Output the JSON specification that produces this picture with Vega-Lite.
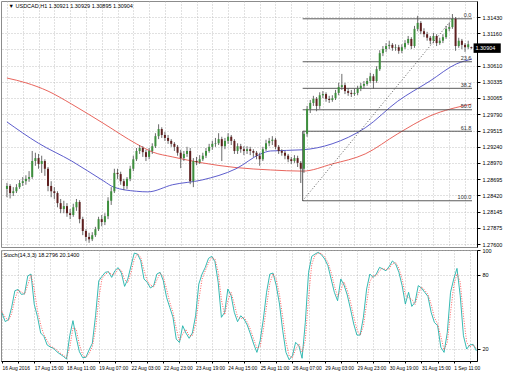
{
  "$schema": "https://vega.github.io/schema/vega-lite/v6.json",
  "padding": 0,
  "background": "white",
  "spacing": 3,
  "bounds": "flush",
  "config": {
    "view": {"stroke": "#8c8c8c", "strokeWidth": 1},
    "axis": {"labelFont": "Liberation Sans", "labelFontSize": 5.5, "labelColor": "#000000", "domainColor": "#000000", "tickColor": "#000000", "tickSize": 3, "gridColor": "#b4b4b4", "gridDash": [1, 2], "gridWidth": 0.8, "labelOverlap": false, "labelFlush": false, "labelBound": false, "tickCount": 200},
    "text": {"font": "Liberation Sans", "fontSize": 5.5}
  },
  "datasets": {
    "bars": [
      {"i":0,"o":1.2853,"h":1.2863,"l":1.2839,"c":1.2858,"k":49,"d":50},
      {"i":1,"o":1.2858,"h":1.2861,"l":1.2837,"c":1.2846,"k":42,"d":45.5},
      {"i":2,"o":1.2846,"h":1.2856,"l":1.2841,"c":1.2849,"k":43.5,"d":42.7},
      {"i":3,"o":1.2849,"h":1.2861,"l":1.2846,"c":1.2856,"k":53.5,"d":48.5},
      {"i":4,"o":1.2856,"h":1.2868,"l":1.2853,"c":1.2863,"k":67,"d":60},
      {"i":5,"o":1.2863,"h":1.2873,"l":1.2858,"c":1.2866,"k":68,"d":67.5},
      {"i":6,"o":1.2866,"h":1.2876,"l":1.2860,"c":1.2870,"k":64,"d":66},
      {"i":7,"o":1.2870,"h":1.2883,"l":1.2865,"c":1.2873,"k":64.5,"d":64.2},
      {"i":8,"o":1.2873,"h":1.2917,"l":1.2870,"c":1.2900,"k":79,"d":71.7},
      {"i":9,"o":1.2900,"h":1.2914,"l":1.2892,"c":1.2905,"k":80.5,"d":79.7},
      {"i":10,"o":1.2905,"h":1.2912,"l":1.2887,"c":1.2895,"k":56,"d":68.2},
      {"i":11,"o":1.2895,"h":1.2909,"l":1.2880,"c":1.2900,"k":46,"d":51},
      {"i":12,"o":1.2900,"h":1.2903,"l":1.2875,"c":1.2887,"k":32.7,"d":39.3},
      {"i":13,"o":1.2887,"h":1.2890,"l":1.2849,"c":1.2858,"k":30,"d":31.3},
      {"i":14,"o":1.2858,"h":1.2866,"l":1.2839,"c":1.2849,"k":23,"d":26.5},
      {"i":15,"o":1.2849,"h":1.2856,"l":1.2836,"c":1.2846,"k":21.3,"d":22.1},
      {"i":16,"o":1.2846,"h":1.2849,"l":1.2822,"c":1.2829,"k":20.3,"d":20.8},
      {"i":17,"o":1.2829,"h":1.2836,"l":1.2812,"c":1.2819,"k":17.5,"d":18.9},
      {"i":18,"o":1.2819,"h":1.2833,"l":1.2812,"c":1.2824,"k":15.6,"d":16.5},
      {"i":19,"o":1.2824,"h":1.2829,"l":1.2806,"c":1.2812,"k":13.8,"d":14.7},
      {"i":20,"o":1.2812,"h":1.2819,"l":1.2802,"c":1.2809,"k":11.6,"d":12.7},
      {"i":21,"o":1.2809,"h":1.2828,"l":1.2806,"c":1.2822,"k":30.5,"d":21},
      {"i":22,"o":1.2822,"h":1.2836,"l":1.2816,"c":1.2831,"k":42.7,"d":36.6},
      {"i":23,"o":1.2831,"h":1.2834,"l":1.2795,"c":1.2802,"k":29,"d":35.8},
      {"i":24,"o":1.2802,"h":1.2806,"l":1.2775,"c":1.2782,"k":17.5,"d":23.2},
      {"i":25,"o":1.2782,"h":1.2785,"l":1.2765,"c":1.2772,"k":12.7,"d":15.1},
      {"i":26,"o":1.2772,"h":1.2779,"l":1.2762,"c":1.2768,"k":13,"d":12.8},
      {"i":27,"o":1.2768,"h":1.2780,"l":1.2765,"c":1.2775,"k":19,"d":16},
      {"i":28,"o":1.2775,"h":1.2789,"l":1.2772,"c":1.2785,"k":24.3,"d":21.6},
      {"i":29,"o":1.2785,"h":1.2806,"l":1.2782,"c":1.2802,"k":46.7,"d":35.5},
      {"i":30,"o":1.2802,"h":1.2809,"l":1.2790,"c":1.2797,"k":75,"d":60.8},
      {"i":31,"o":1.2797,"h":1.2812,"l":1.2792,"c":1.2807,"k":78.6,"d":76.8},
      {"i":32,"o":1.2807,"h":1.2839,"l":1.2802,"c":1.2833,"k":81.9,"d":80.2},
      {"i":33,"o":1.2833,"h":1.2856,"l":1.2826,"c":1.2849,"k":82.4,"d":82.1},
      {"i":34,"o":1.2849,"h":1.2887,"l":1.2846,"c":1.2880,"k":77.8,"d":80.1},
      {"i":35,"o":1.2880,"h":1.2887,"l":1.2870,"c":1.2878,"k":83.2,"d":80.5},
      {"i":36,"o":1.2878,"h":1.2882,"l":1.2860,"c":1.2866,"k":85.7,"d":84.4},
      {"i":37,"o":1.2866,"h":1.2870,"l":1.2851,"c":1.2858,"k":81.3,"d":83.5},
      {"i":38,"o":1.2858,"h":1.2873,"l":1.2853,"c":1.2870,"k":70.5,"d":75.9},
      {"i":39,"o":1.2870,"h":1.2892,"l":1.2866,"c":1.2887,"k":76.5,"d":73.5},
      {"i":40,"o":1.2887,"h":1.2909,"l":1.2883,"c":1.2903,"k":87.3,"d":81.9},
      {"i":41,"o":1.2903,"h":1.2922,"l":1.2900,"c":1.2917,"k":97.5,"d":92.4},
      {"i":42,"o":1.2917,"h":1.2927,"l":1.2912,"c":1.2922,"k":96.7,"d":97.1},
      {"i":43,"o":1.2922,"h":1.2925,"l":1.2907,"c":1.2915,"k":91.3,"d":94},
      {"i":44,"o":1.2915,"h":1.2919,"l":1.2900,"c":1.2907,"k":76.5,"d":83.9},
      {"i":45,"o":1.2907,"h":1.2922,"l":1.2903,"c":1.2917,"k":73.8,"d":75.1},
      {"i":46,"o":1.2917,"h":1.2930,"l":1.2912,"c":1.2925,"k":69.2,"d":71.5},
      {"i":47,"o":1.2925,"h":1.2947,"l":1.2922,"c":1.2942,"k":71,"d":70.1},
      {"i":48,"o":1.2942,"h":1.2962,"l":1.2937,"c":1.2954,"k":80.5,"d":75.7},
      {"i":49,"o":1.2954,"h":1.2957,"l":1.2939,"c":1.2944,"k":81.9,"d":81.2},
      {"i":50,"o":1.2944,"h":1.2949,"l":1.2934,"c":1.2939,"k":75.1,"d":78.5},
      {"i":51,"o":1.2939,"h":1.2944,"l":1.2929,"c":1.2934,"k":61.6,"d":68.4},
      {"i":52,"o":1.2934,"h":1.2937,"l":1.2924,"c":1.2929,"k":53.5,"d":57.5},
      {"i":53,"o":1.2929,"h":1.2932,"l":1.2917,"c":1.2924,"k":45.4,"d":49.5},
      {"i":54,"o":1.2924,"h":1.2927,"l":1.2909,"c":1.2914,"k":27.8,"d":36.6},
      {"i":55,"o":1.2914,"h":1.2919,"l":1.2888,"c":1.2905,"k":25,"d":26.4},
      {"i":56,"o":1.2905,"h":1.2917,"l":1.2900,"c":1.2912,"k":38.6,"d":31.8},
      {"i":57,"o":1.2912,"h":1.2924,"l":1.2907,"c":1.2917,"k":32.7,"d":35.6},
      {"i":58,"o":1.2917,"h":1.2922,"l":1.2861,"c":1.2866,"k":28.4,"d":30.5},
      {"i":59,"o":1.2866,"h":1.2905,"l":1.2856,"c":1.2900,"k":32.7,"d":30.5},
      {"i":60,"o":1.2900,"h":1.2907,"l":1.2893,"c":1.2898,"k":46.7,"d":39.7},
      {"i":61,"o":1.2898,"h":1.2910,"l":1.2895,"c":1.2903,"k":72.4,"d":59.5},
      {"i":62,"o":1.2903,"h":1.2914,"l":1.2900,"c":1.2909,"k":80.5,"d":76.4},
      {"i":63,"o":1.2909,"h":1.2922,"l":1.2905,"c":1.2917,"k":85.9,"d":83.2},
      {"i":64,"o":1.2917,"h":1.2929,"l":1.2914,"c":1.2924,"k":93.2,"d":89.5},
      {"i":65,"o":1.2924,"h":1.2934,"l":1.2919,"c":1.2929,"k":94.9,"d":94},
      {"i":66,"o":1.2929,"h":1.2939,"l":1.2924,"c":1.2930,"k":90.5,"d":92.7},
      {"i":67,"o":1.2930,"h":1.2947,"l":1.2927,"c":1.2937,"k":73.8,"d":82.1},
      {"i":68,"o":1.2937,"h":1.2941,"l":1.2900,"c":1.2925,"k":45.4,"d":59.6},
      {"i":69,"o":1.2925,"h":1.2939,"l":1.2920,"c":1.2934,"k":49.4,"d":47.4},
      {"i":70,"o":1.2934,"h":1.2947,"l":1.2929,"c":1.2941,"k":68.4,"d":58.9},
      {"i":71,"o":1.2941,"h":1.2944,"l":1.2927,"c":1.2934,"k":63,"d":65.7},
      {"i":72,"o":1.2934,"h":1.2937,"l":1.2912,"c":1.2917,"k":49.4,"d":56.2},
      {"i":73,"o":1.2917,"h":1.2930,"l":1.2912,"c":1.2925,"k":41.9,"d":45.6},
      {"i":74,"o":1.2925,"h":1.2929,"l":1.2914,"c":1.2920,"k":46.7,"d":44.3},
      {"i":75,"o":1.2920,"h":1.2925,"l":1.2910,"c":1.2917,"k":44,"d":45.3},
      {"i":76,"o":1.2917,"h":1.2925,"l":1.2912,"c":1.2920,"k":39.2,"d":41.6},
      {"i":77,"o":1.2920,"h":1.2924,"l":1.2910,"c":1.2917,"k":31.9,"d":35.5},
      {"i":78,"o":1.2917,"h":1.2920,"l":1.2907,"c":1.2914,"k":23.8,"d":27.8},
      {"i":79,"o":1.2914,"h":1.2917,"l":1.2903,"c":1.2909,"k":17,"d":20.4},
      {"i":80,"o":1.2909,"h":1.2914,"l":1.2892,"c":1.2903,"k":26.5,"d":21.7},
      {"i":81,"o":1.2903,"h":1.2924,"l":1.2900,"c":1.2920,"k":44,"d":35.2},
      {"i":82,"o":1.2920,"h":1.2936,"l":1.2917,"c":1.2930,"k":65.7,"d":54.8},
      {"i":83,"o":1.2930,"h":1.2939,"l":1.2925,"c":1.2934,"k":80.5,"d":73.1},
      {"i":84,"o":1.2934,"h":1.2942,"l":1.2927,"c":1.2936,"k":81.3,"d":80.9},
      {"i":85,"o":1.2936,"h":1.2939,"l":1.2920,"c":1.2924,"k":71.1,"d":76.2},
      {"i":86,"o":1.2924,"h":1.2927,"l":1.2912,"c":1.2917,"k":56.2,"d":63.6},
      {"i":87,"o":1.2917,"h":1.2920,"l":1.2909,"c":1.2914,"k":34.6,"d":45.4},
      {"i":88,"o":1.2914,"h":1.2917,"l":1.2903,"c":1.2909,"k":17,"d":25.8},
      {"i":89,"o":1.2909,"h":1.2912,"l":1.2898,"c":1.2903,"k":11,"d":14},
      {"i":90,"o":1.2903,"h":1.2907,"l":1.2895,"c":1.2900,"k":14.3,"d":12.6},
      {"i":91,"o":1.2900,"h":1.2910,"l":1.2897,"c":1.2905,"k":25.1,"d":19.7},
      {"i":92,"o":1.2905,"h":1.2909,"l":1.2890,"c":1.2897,"k":22.4,"d":23.7},
      {"i":93,"o":1.2897,"h":1.2900,"l":1.2863,"c":1.2887,"k":12.2,"d":17.3},
      {"i":94,"o":1.2887,"h":1.2951,"l":1.2880,"c":1.2946,"k":41.3,"d":26.7},
      {"i":95,"o":1.2946,"h":1.2993,"l":1.2941,"c":1.2988,"k":81.9,"d":61.6},
      {"i":96,"o":1.2988,"h":1.3003,"l":1.2981,"c":1.2998,"k":94.9,"d":88.4},
      {"i":97,"o":1.2998,"h":1.3010,"l":1.2993,"c":1.3005,"k":96.7,"d":95.8},
      {"i":98,"o":1.3005,"h":1.3008,"l":1.2984,"c":1.2993,"k":98.1,"d":97.4},
      {"i":99,"o":1.2993,"h":1.3016,"l":1.2988,"c":1.3011,"k":96.2,"d":97.1},
      {"i":100,"o":1.3011,"h":1.3018,"l":1.3006,"c":1.3013,"k":92.7,"d":94.4},
      {"i":101,"o":1.3013,"h":1.3016,"l":1.3000,"c":1.3005,"k":87.3,"d":90},
      {"i":102,"o":1.3005,"h":1.3010,"l":1.2998,"c":1.3003,"k":76.5,"d":81.9},
      {"i":103,"o":1.3003,"h":1.3011,"l":1.3000,"c":1.3006,"k":65.7,"d":71.1},
      {"i":104,"o":1.3006,"h":1.3020,"l":1.3003,"c":1.3015,"k":58.9,"d":62.3},
      {"i":105,"o":1.3015,"h":1.3032,"l":1.3011,"c":1.3025,"k":76.5,"d":67.7},
      {"i":106,"o":1.3025,"h":1.3047,"l":1.3020,"c":1.3028,"k":71.6,"d":74},
      {"i":107,"o":1.3028,"h":1.3032,"l":1.3013,"c":1.3018,"k":63.5,"d":67.5},
      {"i":108,"o":1.3018,"h":1.3023,"l":1.3010,"c":1.3015,"k":52.2,"d":57.8},
      {"i":109,"o":1.3015,"h":1.3020,"l":1.3008,"c":1.3013,"k":40,"d":46.1},
      {"i":110,"o":1.3013,"h":1.3022,"l":1.3010,"c":1.3015,"k":31,"d":35.5},
      {"i":111,"o":1.3015,"h":1.3027,"l":1.3011,"c":1.3022,"k":31,"d":31},
      {"i":112,"o":1.3022,"h":1.3032,"l":1.3018,"c":1.3027,"k":45.4,"d":38.2},
      {"i":113,"o":1.3027,"h":1.3035,"l":1.3022,"c":1.3030,"k":68.4,"d":56.9},
      {"i":114,"o":1.3030,"h":1.3040,"l":1.3027,"c":1.3035,"k":80.5,"d":74.4},
      {"i":115,"o":1.3035,"h":1.3049,"l":1.3032,"c":1.3043,"k":77.8,"d":79.1},
      {"i":116,"o":1.3043,"h":1.3047,"l":1.3022,"c":1.3035,"k":80.5,"d":79.1},
      {"i":117,"o":1.3035,"h":1.3060,"l":1.3032,"c":1.3055,"k":85.9,"d":83.2},
      {"i":118,"o":1.3055,"h":1.3087,"l":1.3052,"c":1.3082,"k":84.6,"d":85.2},
      {"i":119,"o":1.3082,"h":1.3094,"l":1.3077,"c":1.3089,"k":83.2,"d":83.9},
      {"i":120,"o":1.3089,"h":1.3099,"l":1.3084,"c":1.3094,"k":86.7,"d":85},
      {"i":121,"o":1.3094,"h":1.3103,"l":1.3089,"c":1.3096,"k":91.1,"d":88.9},
      {"i":122,"o":1.3096,"h":1.3099,"l":1.3086,"c":1.3091,"k":88.6,"d":89.8},
      {"i":123,"o":1.3091,"h":1.3097,"l":1.3086,"c":1.3092,"k":81.9,"d":85.2},
      {"i":124,"o":1.3092,"h":1.3096,"l":1.3081,"c":1.3086,"k":71.1,"d":76.5},
      {"i":125,"o":1.3086,"h":1.3097,"l":1.3082,"c":1.3092,"k":56.2,"d":63.6},
      {"i":126,"o":1.3092,"h":1.3104,"l":1.3089,"c":1.3099,"k":65.7,"d":61},
      {"i":127,"o":1.3099,"h":1.3111,"l":1.3096,"c":1.3106,"k":54.3,"d":60},
      {"i":128,"o":1.3106,"h":1.3109,"l":1.3089,"c":1.3094,"k":57.6,"d":55.9},
      {"i":129,"o":1.3094,"h":1.3128,"l":1.3091,"c":1.3123,"k":71.1,"d":64.3},
      {"i":130,"o":1.3123,"h":1.3145,"l":1.3119,"c":1.3133,"k":69.2,"d":70.1},
      {"i":131,"o":1.3133,"h":1.3136,"l":1.3114,"c":1.3119,"k":65.7,"d":67.4},
      {"i":132,"o":1.3119,"h":1.3124,"l":1.3109,"c":1.3114,"k":62.4,"d":64},
      {"i":133,"o":1.3114,"h":1.3118,"l":1.3103,"c":1.3108,"k":49.4,"d":55.9},
      {"i":134,"o":1.3108,"h":1.3111,"l":1.3097,"c":1.3103,"k":41.3,"d":45.3},
      {"i":135,"o":1.3103,"h":1.3116,"l":1.3099,"c":1.3111,"k":38.6,"d":40},
      {"i":136,"o":1.3111,"h":1.3114,"l":1.3094,"c":1.3099,"k":21.1,"d":29.8},
      {"i":137,"o":1.3099,"h":1.3108,"l":1.3096,"c":1.3103,"k":17,"d":19},
      {"i":138,"o":1.3103,"h":1.3114,"l":1.3099,"c":1.3109,"k":33.2,"d":25.1},
      {"i":139,"o":1.3109,"h":1.3128,"l":1.3106,"c":1.3123,"k":65.7,"d":49.4},
      {"i":140,"o":1.3123,"h":1.3133,"l":1.3119,"c":1.3126,"k":76.5,"d":71.1},
      {"i":141,"o":1.3126,"h":1.3148,"l":1.3123,"c":1.3140,"k":85.1,"d":80.8},
      {"i":142,"o":1.3140,"h":1.3143,"l":1.3086,"c":1.3094,"k":63,"d":74},
      {"i":143,"o":1.3094,"h":1.3108,"l":1.3091,"c":1.3103,"k":30.5,"d":46.7},
      {"i":144,"o":1.3103,"h":1.3106,"l":1.3089,"c":1.3096,"k":19.7,"d":25.1},
      {"i":145,"o":1.3096,"h":1.3099,"l":1.3084,"c":1.3092,"k":23,"d":21.4},
      {"i":146,"o":1.3092,"h":1.3103,"l":1.3089,"c":1.3097,"k":23.5,"d":23.2},
      {"i":147,"o":1.30921,"h":1.30929,"l":1.30895,"c":1.30904,"k":18.28,"d":20.14}
    ],
    "red": [
      {"i":0,"v":1.3040},{"i":6,"v":1.3032},{"i":13,"v":1.3018},{"i":20.5,"v":1.2996},{"i":30.7,"v":1.2963},{"i":41,"v":1.2929},{"i":46.2,"v":1.2915},{"i":52.4,"v":1.2907},{"i":61.7,"v":1.2897},{"i":72.5,"v":1.2889},{"i":83.4,"v":1.2885},{"i":93.6,"v":1.2883},{"i":102.9,"v":1.2895},{"i":113.4,"v":1.2912},{"i":123.7,"v":1.2946},{"i":133.9,"v":1.2976},{"i":147,"v":1.2996}
    ],
    "blue": [
      {"i":0,"v":1.2966},{"i":10,"v":1.2930},{"i":20.5,"v":1.2900},{"i":30.7,"v":1.2866},{"i":33.8,"v":1.2856},{"i":41,"v":1.2849},{"i":44.6,"v":1.2848},{"i":52.4,"v":1.2860},{"i":61.7,"v":1.2868},{"i":72.5,"v":1.2887},{"i":80.3,"v":1.2912},{"i":83.4,"v":1.2917},{"i":93.6,"v":1.2919},{"i":102.9,"v":1.2929},{"i":113.4,"v":1.2956},{"i":123.7,"v":1.3001},{"i":133.9,"v":1.3035},{"i":142.3,"v":1.3064},{"i":147.2,"v":1.3072}
    ],
    "fib": [
      {"lvl":"0.0","p":1.3140},{"lvl":"23.6","p":1.30675},{"lvl":"38.2","p":1.30227},{"lvl":"50.0","p":1.29865},{"lvl":"61.8","p":1.29503},{"lvl":"100.0","p":1.2833}
    ],
    "diag": [
      {"i":93.6,"p":1.2833},{"i":141,"p":1.3140}
    ]
  },
  "vconcat": [
    {
      "width": 476,
      "height": 246,
      "layer": [
        {
          "data": {"name": "red"},
          "mark": {"type": "line", "color": "#e5534b", "strokeWidth": 0.9, "interpolate": "monotone"},
          "encoding": {
            "x": {"field": "i", "type": "quantitative", "scale": {"domain": [-0.3, 147.2], "nice": false, "zero": false},
              "axis": {"values": [0,5,10,15,20,25,30,35,40,45,50,55,60,65,70,75,80,85,90,95,100,105,110,115,120,125,130,135,140,145], "tickCount": 200, "labels": false, "ticks": false, "domain": false, "grid": true, "title": null}},
            "y": {"field": "v", "type": "quantitative", "scale": {"domain": [1.2755, 1.317], "nice": false, "zero": false},
              "axis": {"orient": "right", "values": [1.276, 1.27875, 1.28145, 1.2842, 1.28695, 1.2897, 1.2924, 1.29515, 1.2979, 1.30065, 1.30335, 1.3061, 1.30885, 1.3116, 1.3143], "tickCount": 200,
                "labelExpr": "abs(datum.value-1.30885)<0.00001 ? '' : format(datum.value,'.5f')", "labelOverlap": false, "labelBound": false, "grid": true, "title": null, "labelPadding": 2}}
          }
        },
        {
          "data": {"name": "blue"},
          "mark": {"type": "line", "color": "#4b4bc6", "strokeWidth": 0.9, "interpolate": "monotone"},
          "encoding": {
            "x": {"field": "i", "type": "quantitative"},
            "y": {"field": "v", "type": "quantitative"}
          }
        },
        {
          "data": {"name": "fib"},
          "mark": {"type": "rule", "color": "#4a4a4a", "strokeWidth": 0.9},
          "encoding": {
            "x": {"datum": 93.6},
            "x2": {"datum": 147.2},
            "y": {"field": "p", "type": "quantitative"}
          }
        },
        {
          "data": {"name": "fib"},
          "mark": {"type": "text", "align": "right", "baseline": "bottom", "dy": -0.5, "color": "#333333", "fontSize": 5.5},
          "encoding": {
            "x": {"datum": 147},
            "y": {"field": "p", "type": "quantitative"},
            "text": {"field": "lvl"}
          }
        },
        {
          "data": {"values": [{}]},
          "mark": {"type": "rule", "color": "#4a4a4a", "strokeWidth": 0.9},
          "encoding": {
            "x": {"datum": 93.6},
            "y": {"datum": 1.29503},
            "y2": {"datum": 1.2833}
          }
        },
        {
          "data": {"name": "diag"},
          "mark": {"type": "line", "color": "#333333", "strokeWidth": 0.8, "strokeDash": [1, 2]},
          "encoding": {
            "x": {"field": "i", "type": "quantitative"},
            "y": {"field": "p", "type": "quantitative"}
          }
        },
        {
          "data": {"name": "bars"},
          "mark": {"type": "rule", "color": "#5a5a5a", "strokeWidth": 0.9},
          "encoding": {
            "x": {"field": "i", "type": "quantitative"},
            "y": {"field": "l", "type": "quantitative"},
            "y2": {"field": "h"}
          }
        },
        {
          "data": {"name": "bars"},
          "mark": {"type": "bar", "size": 2},
          "encoding": {
            "x": {"field": "i", "type": "quantitative"},
            "y": {"field": "o", "type": "quantitative"},
            "y2": {"field": "c"},
            "color": {"condition": {"test": "datum.c >= datum.o", "value": "#3d8f3d"}, "value": "#5e1f1f"}
          }
        },
        {
          "data": {"values": [{}]},
          "mark": {"type": "text", "align": "left", "baseline": "middle", "color": "#000000", "fontSize": 5.5},
          "encoding": {
            "x": {"datum": 0.5},
            "y": {"datum": 1.3162},
            "text": {"value": "▼ USDCAD,H1  1.30921 1.30929 1.30895 1.30904"}
          }
        },
        {
          "data": {"values": [{}]},
          "mark": {"type": "rect", "color": "#000000"},
          "encoding": {
            "x": {"datum": 147.7},
            "x2": {"datum": 156.3},
            "y": {"datum": 1.30985},
            "y2": {"datum": 1.30825}
          }
        },
        {
          "data": {"values": [{}]},
          "mark": {"type": "text", "align": "left", "baseline": "middle", "color": "#ffffff", "fontSize": 5.5},
          "encoding": {
            "x": {"datum": 148.3},
            "y": {"datum": 1.30904},
            "text": {"value": "1.30904"}
          }
        }
      ]
    },
    {
      "width": 476,
      "height": 111,
      "layer": [
        {
          "data": {"name": "bars"},
          "mark": {"type": "line", "color": "#20b2aa", "strokeWidth": 0.9, "clip": true},
          "encoding": {
            "x": {"field": "i", "type": "quantitative", "scale": {"domain": [-0.3, 147.2], "nice": false, "zero": false},
              "axis": {"values": [0,5,10,15,20,25,30,35,40,45,50,55,60,65,70,75,80,85,90,95,100,105,110,115,120,125,130,135,140,145], "tickCount": 200,
                "labelExpr": "datum.value % 10 == 0 ? ['16 Aug 2016','17 Aug 15:00','18 Aug 11:00','19 Aug 07:00','22 Aug 03:00','22 Aug 23:00','23 Aug 19:00','24 Aug 15:00','25 Aug 11:00','26 Aug 07:00','29 Aug 03:00','29 Aug 23:00','30 Aug 19:00','31 Aug 15:00','1 Sep 11:00'][datum.value/10] : ''",
                "labelAlign": "left", "labelAngle": 0, "labelPadding": 2, "labelFontSize": 4.9, "labelOverlap": false, "labelBound": false, "tickSize": 2, "grid": true, "domain": true, "title": null}},
            "y": {"field": "k", "type": "quantitative", "scale": {"domain": [10, 100], "nice": false, "zero": false},
              "axis": {"orient": "right", "values": [20, 80, 100], "tickCount": 200, "format": "d", "grid": true, "title": null, "labelPadding": 2, "labelOverlap": false}}
          }
        },
        {
          "data": {"name": "bars"},
          "mark": {"type": "line", "color": "#ff4d4d", "strokeWidth": 0.9, "strokeDash": [1, 1.5], "clip": true},
          "encoding": {
            "x": {"field": "i", "type": "quantitative"},
            "y": {"field": "d", "type": "quantitative"}
          }
        },
        {
          "data": {"values": [{}]},
          "mark": {"type": "text", "align": "left", "baseline": "middle", "color": "#000000", "fontSize": 5.5},
          "encoding": {
            "x": {"datum": 0.5},
            "y": {"datum": 96.3},
            "text": {"value": "Stoch(14,3,3) 18.2796 20.1400"}
          }
        }
      ]
    }
  ]
}
